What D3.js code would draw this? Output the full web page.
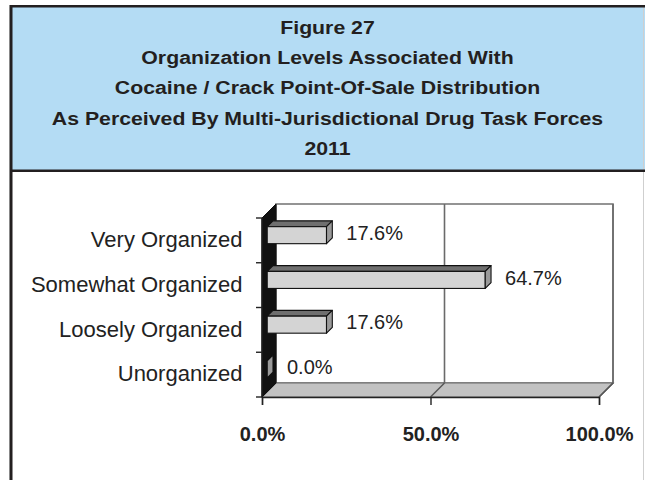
<!DOCTYPE html>
<html><head><meta charset="utf-8">
<script src="https://cdn.jsdelivr.net/npm/d3@7"></script>
<style>html,body{margin:0;padding:0;background:#fff;}svg{display:block;}</style>
</head><body>
<svg id="c" width="645" height="480"></svg>
<script>
const titleLines = ["Figure 27","Organization Levels Associated With","Cocaine / Crack Point-Of-Sale Distribution","As Perceived By Multi-Jurisdictional Drug Task Forces","2011"];
const categories = ["Very Organized","Somewhat Organized","Loosely Organized","Unorganized"];
const values = [17.6, 64.7, 17.6, 0.0];
const xTicks = [0, 50, 100];
const xTickLabels = ["0.0%","50.0%","100.0%"];

const svg = d3.select("#c");
const FONT = "'Liberation Sans', Arial, sans-serif";

// frame & title box
svg.append("rect").attr("x",11).attr("y",6).attr("width",640).attr("height",166).attr("fill","#b4dcf4");
svg.append("line").attr("x1",643.5).attr("x2",643.5).attr("y1",7).attr("y2",480).attr("stroke","#cfcfcf").attr("stroke-width",1);
svg.append("rect").attr("x",10).attr("y",5).attr("width",645).attr("height",2.5).attr("fill","#231f20");
svg.append("rect").attr("x",10).attr("y",169.5).attr("width",645).attr("height",2.5).attr("fill","#231f20");
svg.append("rect").attr("x",10).attr("y",5).attr("width",2.5).attr("height",480).attr("fill","#231f20");
svg.append("rect").attr("x",9).attr("y",5).attr("width",1).attr("height",480).attr("fill","#888");

const ty = d3.scaleLinear().domain([0, titleLines.length-1]).range([33.8, 155]);
svg.append("g").selectAll("text").data(titleLines).join("text")
  .attr("transform",(d,i)=>`translate(327.5,${ty(i)}) scale(1.15,1)`)
  .attr("text-anchor","middle").attr("font-family",FONT).attr("font-weight","bold")
  .attr("font-size",18.5).attr("fill","#231f20").text(d=>d);

// 3D chart geometry
const x = d3.scaleLinear().domain([0,100]).range([262,599]);
const y = d3.scaleBand().domain(categories).range([218,397]).padding(0);
const D = 14;           // wall depth
const d1 = 5.2, d2 = 11; // bar front/back depth
const barH = y.bandwidth()*0.38;

const g = svg.append("g");
// back wall
g.append("rect").attr("x",x(0)+D).attr("y",y.range()[0]-D).attr("width",x(100)-x(0)).attr("height",y.range()[1]-y.range()[0])
  .attr("fill","#fff").attr("stroke","#7a7a7a").attr("stroke-width",1.6);
// gridlines on back wall and floor
xTicks.filter(t=>t>0).forEach(t=>{
  g.append("path").attr("d",`M${x(t)+D},${y.range()[0]-D}V${y.range()[1]-D}L${x(t)},${y.range()[1]}`)
   .attr("fill","none").attr("stroke","#6a6a6a").attr("stroke-width",1.6);
});
// floor
const fl = [[x(0),y.range()[1]],[x(0)+D,y.range()[1]-D],[x(100)+D,y.range()[1]-D],[x(100),y.range()[1]]];
g.append("path").attr("d","M"+fl.join("L")+"Z").attr("fill","#c2c2c2").attr("stroke","#6a6a6a").attr("stroke-width",1.2);
xTicks.filter(t=>t>0).forEach(t=>{
  g.append("path").attr("d",`M${x(t)+D},${y.range()[1]-D}L${x(t)},${y.range()[1]}`)
   .attr("fill","none").attr("stroke","#555").attr("stroke-width",1.4);
});
// left wall
const lw = [[x(0),y.range()[0]],[x(0)+D,y.range()[0]-D],[x(0)+D,y.range()[1]-D],[x(0),y.range()[1]]];
g.append("path").attr("d","M"+lw.join("L")+"Z").attr("fill","#111").attr("stroke","#111").attr("stroke-width",1);

// bars
const dd = d2-d1;
const bars = g.append("g").selectAll("g").data(categories.map((c,i)=>({c,v:values[i]}))).join("g");
bars.each(function(d){
  const sel = d3.select(this);
  const yc = y(d.c)+y.bandwidth()/2;
  const x0 = x(0)+d1, x1 = x(d.v)+d1;
  const yt = yc-barH/2-d1, yb = yc+barH/2-d1;
  // top face
  sel.append("path").attr("d",`M${x0},${yt}L${x1},${yt}L${x1+dd},${yt-dd}L${x0+dd},${yt-dd}Z`)
    .attr("fill","#6f6f6f").attr("stroke","#111").attr("stroke-width",1.1).attr("stroke-linejoin","round");
  // front face
  if (x1 > x0) sel.append("rect").attr("x",x0).attr("y",yt).attr("width",x1-x0).attr("height",yb-yt)
    .attr("fill","#d4d4d4").attr("stroke","#111").attr("stroke-width",1.1);
  // side face
  sel.append("path").attr("d",`M${x1},${yt}L${x1},${yb}L${x1+dd},${yb-dd}L${x1+dd},${yt-dd}Z`)
    .attr("fill","#9a9a9a").attr("stroke","#111").attr("stroke-width",1.1).attr("stroke-linejoin","round");
});
// value labels
g.append("g").selectAll("text").data(categories.map((c,i)=>({c,v:values[i]}))).join("text")
  .attr("x",d=>x(d.v)+25).attr("y",d=>y(d.c)+y.bandwidth()/2-0.5)
  .attr("font-family",FONT).attr("font-size",20).attr("fill","#222")
  .text(d=>d.v.toFixed(1)+"%");

// x axis
const xAxis = d3.axisBottom(x).tickValues(xTicks).tickSize(8).tickPadding(21.5)
  .tickFormat((d,i)=>xTickLabels[i]);
const xa = svg.append("g").attr("transform",`translate(0,${y.range()[1]})`).call(xAxis);
xa.select(".domain").attr("stroke","#222").attr("stroke-width",1.4);
xa.selectAll(".tick line").attr("stroke","#222").attr("stroke-width",1.4);
xa.selectAll(".tick text").attr("font-family",FONT).attr("font-size",20).attr("font-weight","bold").attr("fill","#222");

// y axis ticks at band boundaries
const bounds = categories.map(c=>y(c)).concat([y.range()[1]]);
svg.append("g").selectAll("line").data(bounds).join("line")
  .attr("x1",x(0)-6).attr("x2",x(0)).attr("y1",d=>d).attr("y2",d=>d)
  .attr("stroke","#222").attr("stroke-width",1.4);
svg.append("line").attr("x1",x(0)).attr("x2",x(0)).attr("y1",y.range()[0]).attr("y2",y.range()[1])
  .attr("stroke","#222").attr("stroke-width",1.4);
// category labels
const yAxis = d3.axisLeft(y).tickSize(0).tickPadding(19.5);
const ya = svg.append("g").attr("transform",`translate(${x(0)},0)`).call(yAxis);
ya.select(".domain").remove();
ya.selectAll(".tick text").attr("font-family",FONT).attr("font-size",22).attr("fill","#222").attr("dy","0.31em");
</script>
</body></html>
